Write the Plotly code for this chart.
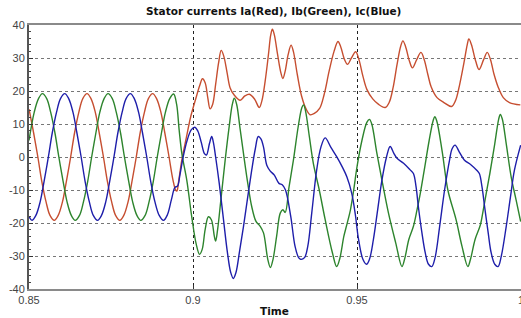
import plotly.graph_objects as go

# ---- data ----
# Ia (red)
t_a = [0.8500, 0.8502, 0.8514, 0.8527, 0.8539, 0.8552, 0.8564, 0.8577, 0.8589, 0.8602,
       0.8614, 0.8627, 0.8639, 0.8652, 0.8664, 0.8677, 0.8689, 0.8702, 0.8714, 0.8727,
       0.8739, 0.8752, 0.8764, 0.8777, 0.8789, 0.8802, 0.8814, 0.8827, 0.8839, 0.8852,
       0.8864, 0.8877, 0.8889, 0.8902, 0.8914, 0.8927, 0.8939, 0.8947, 0.8951, 0.8956,
       0.8966, 0.8980, 0.8993, 0.9008, 0.9020, 0.9029, 0.9037, 0.9045, 0.9052, 0.9060,
       0.9069, 0.9078, 0.9086, 0.9094, 0.9104, 0.9113, 0.9124, 0.9144, 0.9158, 0.9172,
       0.9188, 0.9202, 0.9210, 0.9220, 0.9230, 0.9237, 0.9242, 0.9248, 0.9258, 0.9268,
       0.9274, 0.9281, 0.9290, 0.9299, 0.9306, 0.9318, 0.9331, 0.9345, 0.9357, 0.9370,
       0.9386, 0.9400, 0.9415, 0.9430, 0.9442, 0.9450, 0.9462, 0.9471, 0.9483, 0.9496,
       0.9506, 0.9518, 0.9530, 0.9548, 0.9565, 0.9586, 0.9598, 0.9610, 0.9622, 0.9633,
       0.9640, 0.9648, 0.9660, 0.9669, 0.9682, 0.9695, 0.9705, 0.9716, 0.9726, 0.9744,
       0.9765, 0.9788, 0.9800, 0.9812, 0.9826, 0.9836, 0.9841, 0.9849, 0.9862, 0.9872,
       0.9886, 0.9897, 0.9907, 0.9918, 0.9930, 0.9946, 0.9965, 0.9998]
i_a = [14.5, 13.6, 7.35, 0.0, -7.35, -13.6, -17.7, -19.2, -17.7, -13.6,
       -7.35, 0.0, 7.35, 13.6, 17.7, 19.2, 17.7, 13.6, 7.35, 0.0,
       -7.35, -13.6, -17.7, -19.2, -17.7, -13.6, -7.35, 0.0, 7.35, 13.6,
       17.7, 19.2, 17.7, 13.6, 7.35, 0.0, -7.0, -10.0, -10.3, -7.5,
       -0.9, 6.0, 12.2, 17.5, 21.5, 23.7, 22.5, 18.0, 14.6, 16.0,
       22.0, 28.5, 32.3, 30.5, 25.5, 21.0, 19.0, 17.2, 18.5, 19.0,
       17.5, 15.0, 17.0, 23.0, 31.0, 37.0, 38.7, 37.0, 31.0, 25.5,
       23.8, 26.0, 31.0, 33.9, 32.0, 25.0, 18.5, 14.5, 12.8, 13.2,
       14.7, 19.0, 26.0, 32.0, 35.0, 33.5, 29.5, 28.1, 30.0, 31.9,
       29.5, 24.5, 20.5, 17.6, 16.0, 15.0, 16.5, 21.0, 28.0, 33.5,
       35.2, 33.5, 29.0, 27.0, 29.5, 31.7, 29.5, 25.0, 21.3, 18.0,
       16.5, 15.3, 17.0, 21.5, 28.5, 34.0, 35.8, 34.0, 29.0, 26.5,
       29.5, 31.7, 29.5, 25.0, 21.3, 18.0, 16.5, 15.8]

# Ib (green)
t_b = [0.8500, 0.8516, 0.8529, 0.8541, 0.8554, 0.8566, 0.8579, 0.8591, 0.8604, 0.8616,
       0.8629, 0.8641, 0.8654, 0.8666, 0.8679, 0.8691, 0.8704, 0.8716, 0.8729, 0.8741,
       0.8754, 0.8766, 0.8779, 0.8791, 0.8804, 0.8816, 0.8829, 0.8841, 0.8854, 0.8866,
       0.8879, 0.8891, 0.8904, 0.8916, 0.8929, 0.8941, 0.8950, 0.8958, 0.8966, 0.8981,
       0.8996, 0.9010, 0.9020, 0.9028, 0.9037, 0.9047, 0.9056, 0.9065, 0.9069, 0.9075,
       0.9085, 0.9098, 0.9110, 0.9120, 0.9126, 0.9133, 0.9143, 0.9154, 0.9167, 0.9179,
       0.9192, 0.9205, 0.9215, 0.9228, 0.9236, 0.9244, 0.9255, 0.9266, 0.9274, 0.9281,
       0.9293, 0.9306, 0.9322, 0.9332, 0.9337, 0.9343, 0.9355, 0.9367, 0.9385, 0.9403,
       0.9425, 0.9438, 0.9447, 0.9460, 0.9469, 0.9480, 0.9490, 0.9500, 0.9515, 0.9530,
       0.9538, 0.9545, 0.9560, 0.9576, 0.9596, 0.9618, 0.9637, 0.9645, 0.9658, 0.9672,
       0.9683, 0.9693, 0.9705, 0.9720, 0.9732, 0.9737, 0.9743, 0.9760, 0.9777, 0.9802,
       0.9820, 0.9838, 0.9846, 0.9860, 0.9876, 0.9885, 0.9894, 0.9905, 0.9920, 0.9932,
       0.9937, 0.9943, 0.9955, 0.9970, 0.9985, 0.9999]
i_b = [5.0, 13.6, 17.7, 19.2, 17.7, 13.6, 7.35, 0.0, -7.35, -13.6,
       -17.7, -19.2, -17.7, -13.6, -7.35, 0.0, 7.35, 13.6, 17.7, 19.2,
       17.7, 13.6, 7.35, 0.0, -7.35, -13.6, -17.7, -19.2, -17.7, -13.6,
       -7.35, 0.0, 7.35, 13.6, 17.7, 19.1, 16.0, 8.0, 1.0, -7.0,
       -18.0, -26.5, -29.5, -28.0, -22.0, -18.1, -19.0, -24.0, -25.5, -22.0,
       -13.0, -1.0, 9.0, 16.0, 17.8, 16.0, 9.0, 1.0, -8.0, -15.0,
       -19.5, -21.0, -23.0, -31.0, -33.5, -31.0, -24.0, -17.0, -16.0, -16.8,
       -9.0, -1.0, 10.0, 15.0, 15.8, 14.0, 6.0, -2.0, -10.0, -19.0,
       -29.0, -33.2, -31.0, -24.0, -20.5, -16.0, -10.0, -3.0, 5.0, 10.5,
       11.4, 10.0, 1.5, -7.0, -17.0, -26.0, -33.2, -31.0, -25.0, -21.0,
       -16.0, -11.0, -4.0, 5.0, 11.0, 12.2, 11.0, 1.5, -10.0, -19.0,
       -27.0, -33.2, -31.0, -25.0, -20.6, -16.0, -11.0, -5.0, 4.0, 11.5,
       12.9, 11.5, 4.0, -6.0, -13.0, -19.6]

# Ic (blue)
t_c = [0.8500, 0.8509, 0.8521, 0.8534, 0.8546, 0.8559, 0.8571, 0.8584, 0.8596, 0.8609,
       0.8621, 0.8634, 0.8646, 0.8659, 0.8671, 0.8684, 0.8696, 0.8709, 0.8721, 0.8734,
       0.8746, 0.8759, 0.8771, 0.8784, 0.8796, 0.8809, 0.8821, 0.8834, 0.8846, 0.8859,
       0.8871, 0.8884, 0.8897, 0.8910, 0.8922, 0.8934, 0.8945, 0.8953, 0.8960, 0.8970,
       0.8982, 0.8995, 0.9006, 0.9015, 0.9025, 0.9035, 0.9041, 0.9050, 0.9057, 0.9062,
       0.9069, 0.9080, 0.9093, 0.9105, 0.9115, 0.9123, 0.9131, 0.9142, 0.9154, 0.9167,
       0.9179, 0.9190, 0.9199, 0.9207, 0.9215, 0.9225, 0.9235, 0.9248, 0.9262, 0.9272,
       0.9282, 0.9298, 0.9311, 0.9322, 0.9328, 0.9340, 0.9350, 0.9362, 0.9377,
       0.9390, 0.9403, 0.9420, 0.9438, 0.9455, 0.9469, 0.9484, 0.9495, 0.9504, 0.9518,
       0.9529, 0.9538, 0.9550, 0.9563, 0.9576, 0.9590, 0.9601, 0.9612, 0.9622, 0.9642,
       0.9662, 0.9672, 0.9680, 0.9687, 0.9698, 0.9708, 0.9718, 0.9728, 0.9738, 0.9752,
       0.9767, 0.9782, 0.9790, 0.9799, 0.9812, 0.9827, 0.9848, 0.9865, 0.9873, 0.9881,
       0.9889, 0.9900, 0.9909, 0.9920, 0.9930, 0.9940, 0.9955, 0.9968, 0.9980, 0.9999]
i_c = [-18.0, -19.2, -17.7, -13.6, -7.35, 0.0, 7.35, 13.6, 17.7, 19.2,
       17.7, 13.6, 7.35, 0.0, -7.35, -13.6, -17.7, -19.2, -17.7, -13.6,
       -7.35, 0.0, 7.35, 13.6, 17.7, 19.2, 17.7, 13.6, 7.35, 0.0,
       -7.35, -13.6, -17.7, -19.2, -17.5, -13.0, -9.2, -8.8, -5.5, 0.0,
       5.0, 8.3, 9.0, 7.8, 4.5, 1.0, 0.6, 4.0, 6.2, 4.5,
       0.0, -8.0, -19.0, -29.0, -35.0, -36.8, -35.0, -28.5, -21.0, -12.0,
       -4.0, 2.5, 6.2, 5.5, 3.0, -2.5, -4.2, -5.5, -8.0, -8.4,
       -10.0, -18.0, -27.0, -30.5, -31.0, -30.5, -27.0, -17.0, -4.0,
       3.0, 5.8, 3.0, 0.1, -3.0, -6.0, -11.0, -17.5, -24.5, -31.0,
       -32.5, -31.0, -25.0, -16.0, -7.0, 0.0, 3.2, 1.2, -0.4, -1.9,
       -3.9, -5.0, -9.0, -15.0, -23.0, -29.0, -32.5, -33.2, -30.5, -21.0,
       -10.0, -1.0, 2.5, 3.6, 1.5, -0.9, -2.4, -4.0, -5.0, -9.0,
       -15.0, -23.0, -29.0, -32.5, -33.2, -30.0, -21.0, -12.0, -4.0, 3.6]

x_ticks = [0.85, 0.9, 0.95, 1.0]
x_tick_labels = ["0.85", "0.9", "0.95", "1"]
y_ticks = [-40, -30, -20, -10, 0, 10, 20, 30, 40]
y_tick_labels = ["-40", "-30", "-20", "-10", "0", "10", "20", "30", "40"]

series = [
    ("Ia", t_a, i_a, "rgb(198,78,48)"),
    ("Ib", t_b, i_b, "rgb(45,132,45)"),
    ("Ic", t_c, i_c, "rgb(30,30,170)"),
]

fig = go.Figure()
for name, t, v, col in series:
    fig.add_trace(go.Scatter(
        x=t, y=v, mode="lines", name=name,
        line=dict(color=col, width=1.4, shape="spline", smoothing=1.0),
        showlegend=False, hoverinfo="skip",
    ))

font_family = "Arial, Liberation Sans, sans-serif"
bold_family = "DejaVu Sans, Arial, sans-serif"

fig.update_layout(
    width=521, height=318,
    margin=dict(l=29, r=0, t=25, b=29, autoexpand=False),
    paper_bgcolor="white", plot_bgcolor="white",
    font=dict(family=font_family, size=11, color="#333"),
    annotations=[
        dict(text="<b>Stator currents Ia(Red), Ib(Green), Ic(Blue)</b>",
             xref="paper", yref="paper", x=0.496, y=1.053,
             xanchor="center", yanchor="middle", showarrow=False,
             font=dict(size=10.5, color="#111", family=bold_family)),
        dict(text="<b>Time</b>",
             xref="paper", yref="paper", x=0.498, y=-0.083,
             xanchor="center", yanchor="middle", showarrow=False,
             font=dict(size=10.5, color="#111", family=bold_family)),
    ],
)
fig.update_xaxes(
    range=[0.85, 1.0], tickvals=x_ticks, ticktext=x_tick_labels,
    showgrid=True, gridcolor="#222", griddash="dot", gridwidth=1,
    showline=True, linecolor="#8a8a8a", linewidth=2, mirror=True,
    ticks="inside", ticklen=4, tickcolor="#333",
    zeroline=False, tickfont=dict(size=11, color="#444"),
    automargin=False, ticklabeloverflow="allow",
)
fig.update_yaxes(
    range=[-40, 40], tickvals=y_ticks, ticktext=y_tick_labels,
    showgrid=True, gridcolor="#777", griddash="dot", gridwidth=1,
    showline=True, linecolor="#555", linewidth=2, mirror=True,
    ticks="inside", ticklen=4, tickcolor="#333",
    minor=dict(ticks="inside", ticklen=2, dtick=2, tickcolor="#444", showgrid=False),
    zeroline=False, tickfont=dict(size=11, color="#444"),
    automargin=False, ticklabeloverflow="allow",
)

fig.write_html(
    "out.html",
    config={"displayModeBar": False},
    post_script="document.body.style.margin='0';document.body.style.overflow='hidden';",
)
